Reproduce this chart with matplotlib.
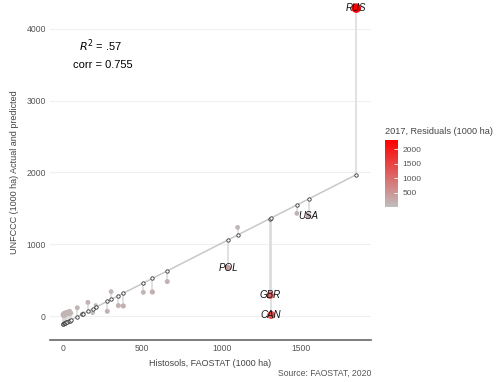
import numpy as np
import matplotlib
matplotlib.use("Agg")
import matplotlib.pyplot as plt
from matplotlib.colors import LinearSegmentedColormap, Normalize
from matplotlib.cm import ScalarMappable

plt.rcParams['font.family'] = ['Liberation Sans', 'DejaVu Sans']

# values (1000 ha)
histosols = [0, 3, 6, 10, 15, 20, 28, 35, 42, 50, 90, 118, 128, 157, 187, 206,
             279, 303, 349, 380, 506, 563, 657, 1040, 1100, 1305, 1312, 1474, 1548, 1848]
actual = [20, 5, 35, 10, 45, 25, 55, 30, 65, 40, 115, 25, 40, 190, 45, 150,
          65, 340, 145, 140, 330, 335, 480, 670, 1235, 290, 15, 1430, 1395, 4290]
predicted = [-110, -107, -103, -99, -93, -88, -79, -71, -63, -54, -9, 23, 34, 67, 100, 122,
             204, 231, 283, 318, 459, 523, 629, 1060, 1128, 1358, 1366, 1548, 1631, 1969]
labels = [''] * 23 + ['POL', '', 'GBR', 'CAN', '', 'USA', 'RUS']

x = np.array(histosols, dtype=float)
y = np.array(actual, dtype=float)
p = np.array(predicted, dtype=float)
resid = np.abs(y - p)

cmap = LinearSegmentedColormap.from_list('gr', ['#BEBEBE', '#FF0000'])
norm = Normalize(vmin=0, vmax=resid.max())

fig = plt.figure(figsize=(5, 3.82), dpi=100)
ax = fig.add_axes([0.1, 0.11, 0.642, 0.877])

ax.vlines(x, p, y, color='#D9D9D9', lw=1.1, zorder=1)
order = np.argsort(x)
ax.plot(x[order], p[order], color='#C8C8C8', lw=1.1, zorder=2)

diam = 3.5 + 6 * np.sqrt(resid / resid.max())
ax.scatter(x, y, s=(diam * 0.72) ** 2, c=cmap(norm(resid)), edgecolors='none',
           zorder=3, clip_on=False)
ax.scatter(x, p, s=(3.4 * 0.72) ** 2, facecolors='white', edgecolors='#333333',
           linewidths=0.6, zorder=4)

for xi, yi, lab in zip(x, y, labels):
    if lab:
        ax.text(xi, yi, lab, ha='center', va='center', style='italic',
                fontsize=7, color='#111111', zorder=5)

ax.text(0.156, 0.878, r'$R^2$ = .57', transform=ax.transAxes, ha='center',
        va='center', fontsize=8)
ax.text(0.165, 0.821, 'corr = 0.755', transform=ax.transAxes, ha='center',
        va='center', fontsize=8)

ax.set_xlim(-82, 1941)
ax.set_ylim(-334, 4334)
ax.set_xticks([0, 500, 1000, 1500])
ax.set_yticks([0, 1000, 2000, 3000, 4000])
ax.tick_params(length=0, labelsize=6.2, labelcolor='#555555', pad=3)
ax.grid(axis='y', color='#F0F0F0', lw=0.8)
ax.set_axisbelow(True)
for side in ['top', 'right', 'left']:
    ax.spines[side].set_visible(False)
ax.spines['bottom'].set_color('#666666')
ax.spines['bottom'].set_linewidth(1.2)

ax.set_xlabel('Histosols, FAOSTAT (1000 ha)', fontsize=6.5, color='#444444', labelpad=4)
ax.set_ylabel('UNFCCC (1000 ha) Actual and predicted', fontsize=6.5, color='#444444',
              labelpad=5)
fig.text(0.742, 0.024, 'Source: FAOSTAT, 2020', ha='right', va='center',
         fontsize=6.2, color='#555555')

cax = fig.add_axes([385 / 500, 1 - 207 / 382, 13 / 500, 67 / 382])
cb = fig.colorbar(ScalarMappable(norm=norm, cmap=cmap), cax=cax,
                  ticks=[500, 1000, 1500, 2000])
cb.outline.set_visible(False)
cax.tick_params(length=3, width=0.6, color='white', direction='in',
                labelsize=6, labelcolor='#555555', pad=3)
fig.text(385 / 500, 1 - 132 / 382, '2017, Residuals (1000 ha)', ha='left',
         va='center', fontsize=6.6, color='#444444')

fig.savefig('out.png', dpi=100)
